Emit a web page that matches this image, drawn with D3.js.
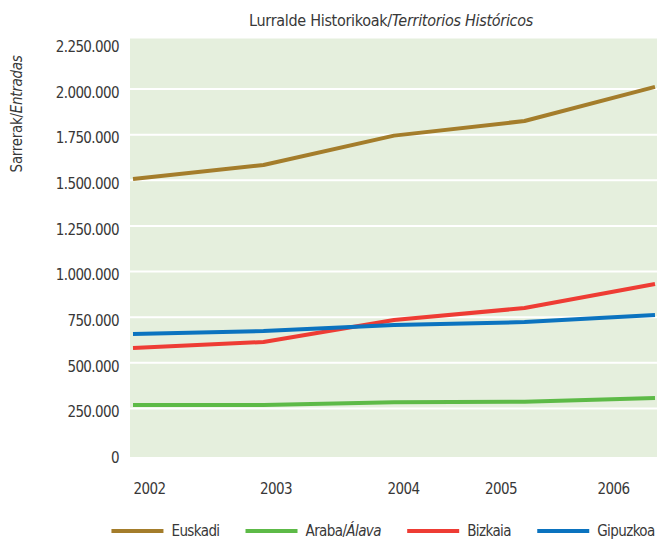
<!DOCTYPE html>
<html>
<head>
<meta charset="utf-8">
<script src="https://cdn.jsdelivr.net/npm/d3@7"></script>
<style>
  body { margin: 0; background: #fff; }
  text { font-family: "DejaVu Sans Condensed", "DejaVu Sans", sans-serif; font-stretch: condensed; fill: #383838; }
  .lbl { font-size: 15px; letter-spacing: -0.6px; }
</style>
</head>
<body>
<script>
let years = ["2002", "2003", "2004", "2005", "2006"];
let seriesNames = ["Euskadi", "Araba/Álava", "Bizkaia", "Gipuzkoa"];
let euskadi = [1507000, 1584000, 1745000, 1825000, 2012000];
let araba = [268000, 268000, 283000, 287000, 307000];
let bizkaia = [581000, 614000, 734000, 800000, 932000];
let gipuzkoa = [658000, 674000, 707000, 723000, 762000];
let yTicks = [0, 250000, 500000, 750000, 1000000, 1250000, 1500000, 1750000, 2000000, 2250000];
let colors = ["#a47d2b", "#5dba47", "#ee3c34", "#0b73bf"];

let width = 657, height = 540;

let svg = d3.select("body")
  .append("svg")
  .attr("width", width)
  .attr("height", height)

let x = d3.scalePoint().domain(years).range([133, 655]);
let y = d3.scaleLinear().domain([0, 2250000]).range([454, 43.5]);

// plot background
svg.append("rect")
  .attr("x", 130)
  .attr("y", y(2250000) - 5)
  .attr("width", width - 130)
  .attr("height", y(0) + 3 - (y(2250000) - 5))
  .attr("fill", "#e5efdd")

// white gridlines (none on top and bottom)
svg.append("g")
  .selectAll("line")
  .data(yTicks.filter(d => d > 0 && d < 2250000))
  .enter()
  .append("line")
  .attr("x1", 130)
  .attr("x2", width)
  .attr("y1", d => y(d))
  .attr("y2", d => y(d))
  .attr("stroke", "#fff")
  .attr("stroke-width", 2)

let fmt = d3.formatLocale({ decimal: ",", thousands: ".", grouping: [3], currency: ["", "€"] }).format(",d");

let yAxis = svg.append("g")
  .attr("transform", "translate(119,0)")
  .call(d3.axisLeft(y).tickValues(yTicks).tickFormat(fmt).tickSize(0).tickPadding(0))
yAxis.select(".domain").remove();
yAxis.selectAll("text")
  .attr("class", "lbl")
  .attr("dy", "0.55em")
  .attr("font-family", null)
  .attr("font-size", null)

let xAxis = svg.append("g")
  .attr("transform", "translate(0,479)")
  .call(d3.axisBottom(x).tickSize(0).tickPadding(0))
xAxis.select(".domain").remove();
xAxis.selectAll("text")
  .attr("class", "lbl")
  .attr("font-family", null)
  .attr("font-size", null)
  .attr("dy", "1em")
  .attr("text-anchor", (d, i) => i < 3 ? "start" : "end")
  .attr("dx", (d, i) => [0, -4, -7, -8, -26][i])

let allSeries = [euskadi, araba, bizkaia, gipuzkoa];
let line = d3.line()
  .x((d, i) => x(years[i]))
  .y(d => y(d));

svg.append("g")
  .selectAll("path")
  .data(allSeries)
  .enter()
  .append("path")
  .attr("d", line)
  .attr("fill", "none")
  .attr("stroke", (d, i) => colors[i])
  .attr("stroke-width", 4)
  .attr("stroke-linejoin", "round")

// title
let title = svg.append("text")
  .attr("x", 391)
  .attr("y", 26)
  .attr("text-anchor", "middle")
  .style("font-size", "16px")
  .style("letter-spacing", "-0.3px")
title.append("tspan").text("Lurralde Historikoak/");
title.append("tspan").style("font-style", "italic").text("Territorios Históricos");

// y title
let yTitle = svg.append("text")
  .attr("transform", "translate(22,114) rotate(-90)")
  .attr("text-anchor", "middle")
  .style("font-size", "15px")
  .style("letter-spacing", "-0.3px")
yTitle.append("tspan").text("Sarrerak/");
yTitle.append("tspan").style("font-style", "italic").text("Entradas");

// legend
let legend = svg.append("g");
let lx = 113;
seriesNames.forEach(function (name, i) {
  legend.append("line")
    .attr("x1", lx)
    .attr("x2", lx + 52)
    .attr("y1", 531)
    .attr("y2", 531)
    .attr("stroke", colors[i])
    .attr("stroke-width", 4)
  let t = legend.append("text")
    .attr("class", "lbl")
    .attr("x", lx + 60)
    .attr("y", 536)
  if (name.indexOf("/") != -1) {
    t.append("tspan").text(name.split("/")[0] + "/");
    t.append("tspan").style("font-style", "italic").text(name.split("/")[1]);
  } else {
    t.text(name);
  }
  lx = lx + 60 + t.node().getBBox().width + 26;
});
// keep the last label inside the picture
let over = lx - 26 - 655;
if (over > 0) legend.attr("transform", "translate(" + (-over) + ",0)");
</script>
</body>
</html>
